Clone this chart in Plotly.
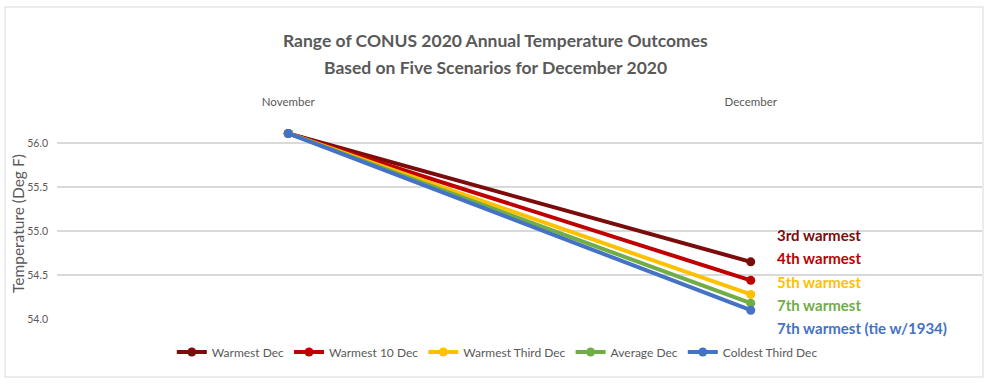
import plotly.graph_objects as go

months = ["November", "December"]
series_names = ["Warmest Dec", "Warmest 10 Dec", "Warmest Third Dec", "Average Dec", "Coldest Third Dec"]
warmest_dec = [56.11, 54.65]
warmest_10_dec = [56.11, 54.44]
warmest_third_dec = [56.11, 54.28]
average_dec = [56.11, 54.18]
coldest_third_dec = [56.11, 54.10]
rank_labels = ["3rd warmest", "4th warmest", "5th warmest", "7th warmest", "7th warmest (tie w/1934)"]
title_lines = ["Range of CONUS 2020 Annual Temperature Outcomes", "Based on Five Scenarios for December 2020"]
y_title = "Temperature (Deg F)"

series_values = [warmest_dec, warmest_10_dec, warmest_third_dec, average_dec, coldest_third_dec]
colors = ["#7B0C0C", "#C00000", "#FFC000", "#70AD47", "#4472C4"]

FONT = "Lato, Open Sans, sans-serif"
GRAY = "#595959"

# pixel -> paper helpers (plot area: x 57..982, y 115..319)
def px(xp):
    return (xp - 57) / 925

def py(yp):
    return (319 - yp) / 204

fig = go.Figure()
for name, vals, c in zip(series_names, series_values, colors):
    fig.add_trace(go.Scatter(
        x=months, y=vals, name=name, mode="lines+markers",
        line=dict(color=c, width=4), marker=dict(color=c, size=9),
    ))

label_y = [235, 258, 282, 305, 328]
for txt, c, ly in zip(rank_labels, colors, label_y):
    fig.add_annotation(
        text="<b>%s</b>" % txt, xref="paper", yref="paper",
        x=px(775), y=py(ly), xanchor="left", yanchor="middle",
        showarrow=False, font=dict(family=FONT, size=15, color=c),
    )

for txt, ty in zip(title_lines, [40, 68]):
    fig.add_annotation(
        text="<b>%s</b>" % txt, xref="paper", yref="paper",
        x=px(495), y=py(ty), xanchor="center", yanchor="middle",
        showarrow=False, font=dict(family=FONT, size=17.5, color=GRAY),
    )

fig.add_annotation(
    text=y_title, xref="paper", yref="paper", textangle=-90,
    x=px(18), y=py(224), xanchor="center", yanchor="middle",
    showarrow=False, font=dict(family=FONT, size=15.5, color=GRAY),
)

fig.add_shape(type="rect", xref="paper", yref="paper",
              x0=px(5), x1=px(983), y0=py(377), y1=py(7),
              line=dict(color="#D9D9D9", width=1), layer="below")

fig.update_layout(
    width=989, height=386,
    margin=dict(l=57, r=7, t=115, b=67),
    paper_bgcolor="white", plot_bgcolor="white",
    font=dict(family=FONT, color=GRAY),
    xaxis=dict(
        side="top", range=[-0.5, 1.5], showgrid=False, zeroline=False, showline=False,
        tickfont=dict(size=11.5, color=GRAY), ticks="", ticklabelstandoff=6,
    ),
    yaxis=dict(
        range=[54.0, 56.32], dtick=0.5, tickformat=".1f", showgrid=True,
        gridcolor="#D9D9D9", gridwidth=1.5, zeroline=False, showline=False,
        tickfont=dict(size=10.5, color=GRAY), ticks="", ticklabelstandoff=8,
    ),
    showlegend=True,
    legend=dict(
        orientation="h", x=0.476, xanchor="center", y=py(352), yanchor="middle",
        font=dict(size=12, color=GRAY), itemwidth=30, tracegroupgap=0,
    ),
)

fig.write_html("out.html", config={"displayModeBar": False},
               post_script="document.body.style.margin='0';")
